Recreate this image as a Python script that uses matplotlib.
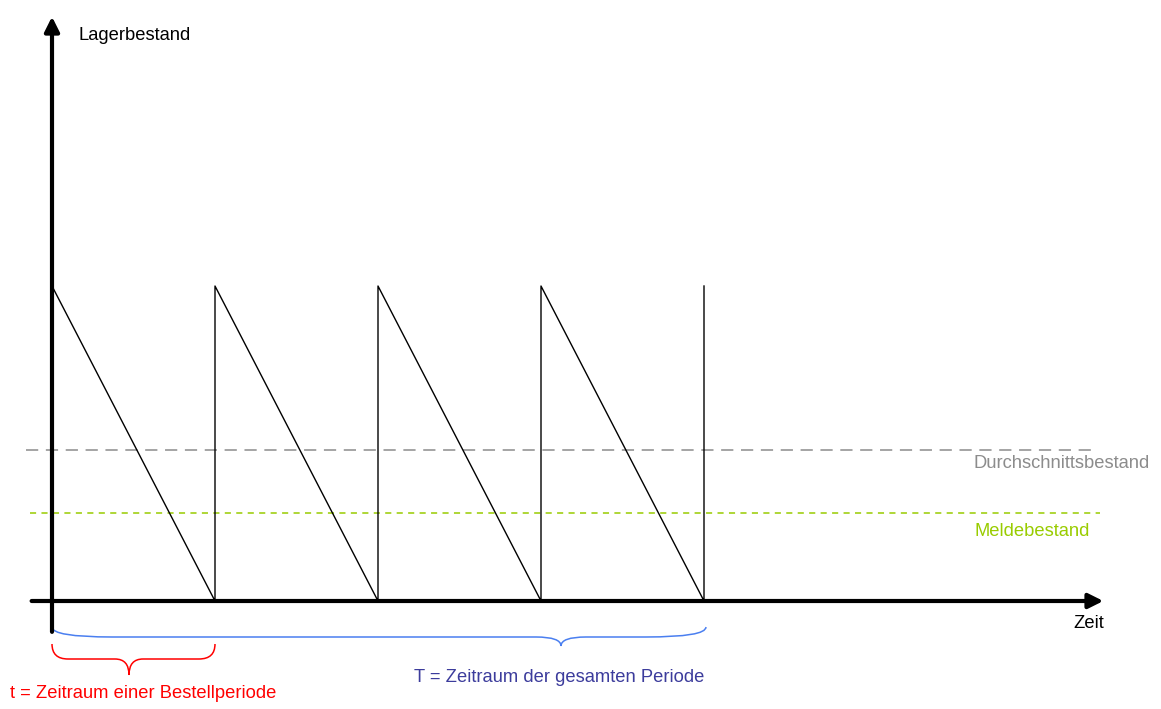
import matplotlib.pyplot as plt
from matplotlib.path import Path
from matplotlib.patches import PathPatch

plt.rcParams['font.family'] = ['Liberation Sans', 'DejaVu Sans']

# Lagerbestand im Zeitverlauf (Saegezahn), Zeit in Bestellperioden, Bestand in %
zeit = [0, 1, 1, 2, 2, 3, 3, 4, 4]
bestand = [100, 0, 100, 0, 100, 0, 100, 0, 100]
durchschnitt = 48
meldebestand = 28

labels = {
    'y': 'Lagerbestand',
    'x': 'Zeit',
    'avg': 'Durchschnittsbestand',
    'melde': 'Meldebestand',
    't': 't = Zeitraum einer Bestellperiode',
    'T': 'T = Zeitraum der gesamten Periode',
}

# pixel -> data scaling (1 period = 163 px, 100 % = 315 px)
PX_X = 163.0
PX_Y = 3.15
FS = 13.2


def brace(ax, x0, x1, xtip, ytop, yline, ytip, r_end, r_tip, color):
    verts = [
        (x0, ytop), (x0, yline), (x0 + r_end, yline),
        (xtip - r_tip, yline),
        (xtip, yline), (xtip, ytip),
        (xtip, yline), (xtip + r_tip, yline),
        (x1 - r_end, yline),
        (x1, yline), (x1, ytop),
    ]
    codes = [Path.MOVETO, Path.CURVE3, Path.CURVE3, Path.LINETO,
             Path.CURVE3, Path.CURVE3, Path.CURVE3, Path.CURVE3,
             Path.LINETO, Path.CURVE3, Path.CURVE3]
    ax.add_patch(PathPatch(Path(verts, codes), fill=False, edgecolor=color, lw=1.1))


fig = plt.figure(figsize=(11.61, 7.09), dpi=100)
ax = fig.add_axes([0, 0, 1, 1])
ax.set_xlim(-52 / PX_X, 1109 / PX_X)
ax.set_ylim(-108 / PX_Y, 601 / PX_Y)
ax.axis('off')

# Achsen mit Pfeilen
arrow = dict(arrowstyle='-|>', lw=3, color='black', mutation_scale=22, shrinkA=0, shrinkB=0)
ax.annotate('', xy=(0, 185.5), xytext=(0, -9.8), arrowprops=arrow)
ax.annotate('', xy=(6.45, 0), xytext=(-0.125, 0), arrowprops=arrow)

# Hilfslinien
ax.plot([-0.16, 6.4], [durchschnitt, durchschnitt], color='#8c8c8c', lw=1.1, dashes=(8, 5))
ax.plot([-0.135, 6.43], [meldebestand, meldebestand], color='#99cc00', lw=1.1, dashes=(4, 3.5))

# Saegezahn
ax.plot(zeit, bestand, color='black', lw=1.0)

# Beschriftungen
ax.text(26 / PX_X, 565 / PX_Y, labels['y'], fontsize=FS, va='center', ha='left')
ax.text(1052 / PX_X, -23 / PX_Y, labels['x'], fontsize=FS, va='center', ha='right')
ax.text(1098 / PX_X, 137 / PX_Y, labels['avg'], fontsize=FS, va='center', ha='right',
        color='#8c8c8c')
ax.text(923 / PX_X, 69 / PX_Y, labels['melde'], fontsize=FS, va='center', ha='left',
        color='#99cc00')
ax.text(-42 / PX_X, -93 / PX_Y, labels['t'], fontsize=FS, va='center', ha='left',
        color='#ff0000')
ax.text(362 / PX_X, -77 / PX_Y, labels['T'], fontsize=FS, va='center', ha='left',
        color='#3c3c9c')

# Klammern
brace(ax, 0, 654 / PX_X, 509 / PX_X, -26 / PX_Y, -36 / PX_Y, -45 / PX_Y,
      60 / PX_X, 25 / PX_X, '#4a7ff0')
brace(ax, 0, 163 / PX_X, 77 / PX_X, -43 / PX_Y, -58 / PX_Y, -74 / PX_Y,
      16 / PX_X, 14 / PX_X, '#ff0000')

fig.savefig('out.png', dpi=100)
